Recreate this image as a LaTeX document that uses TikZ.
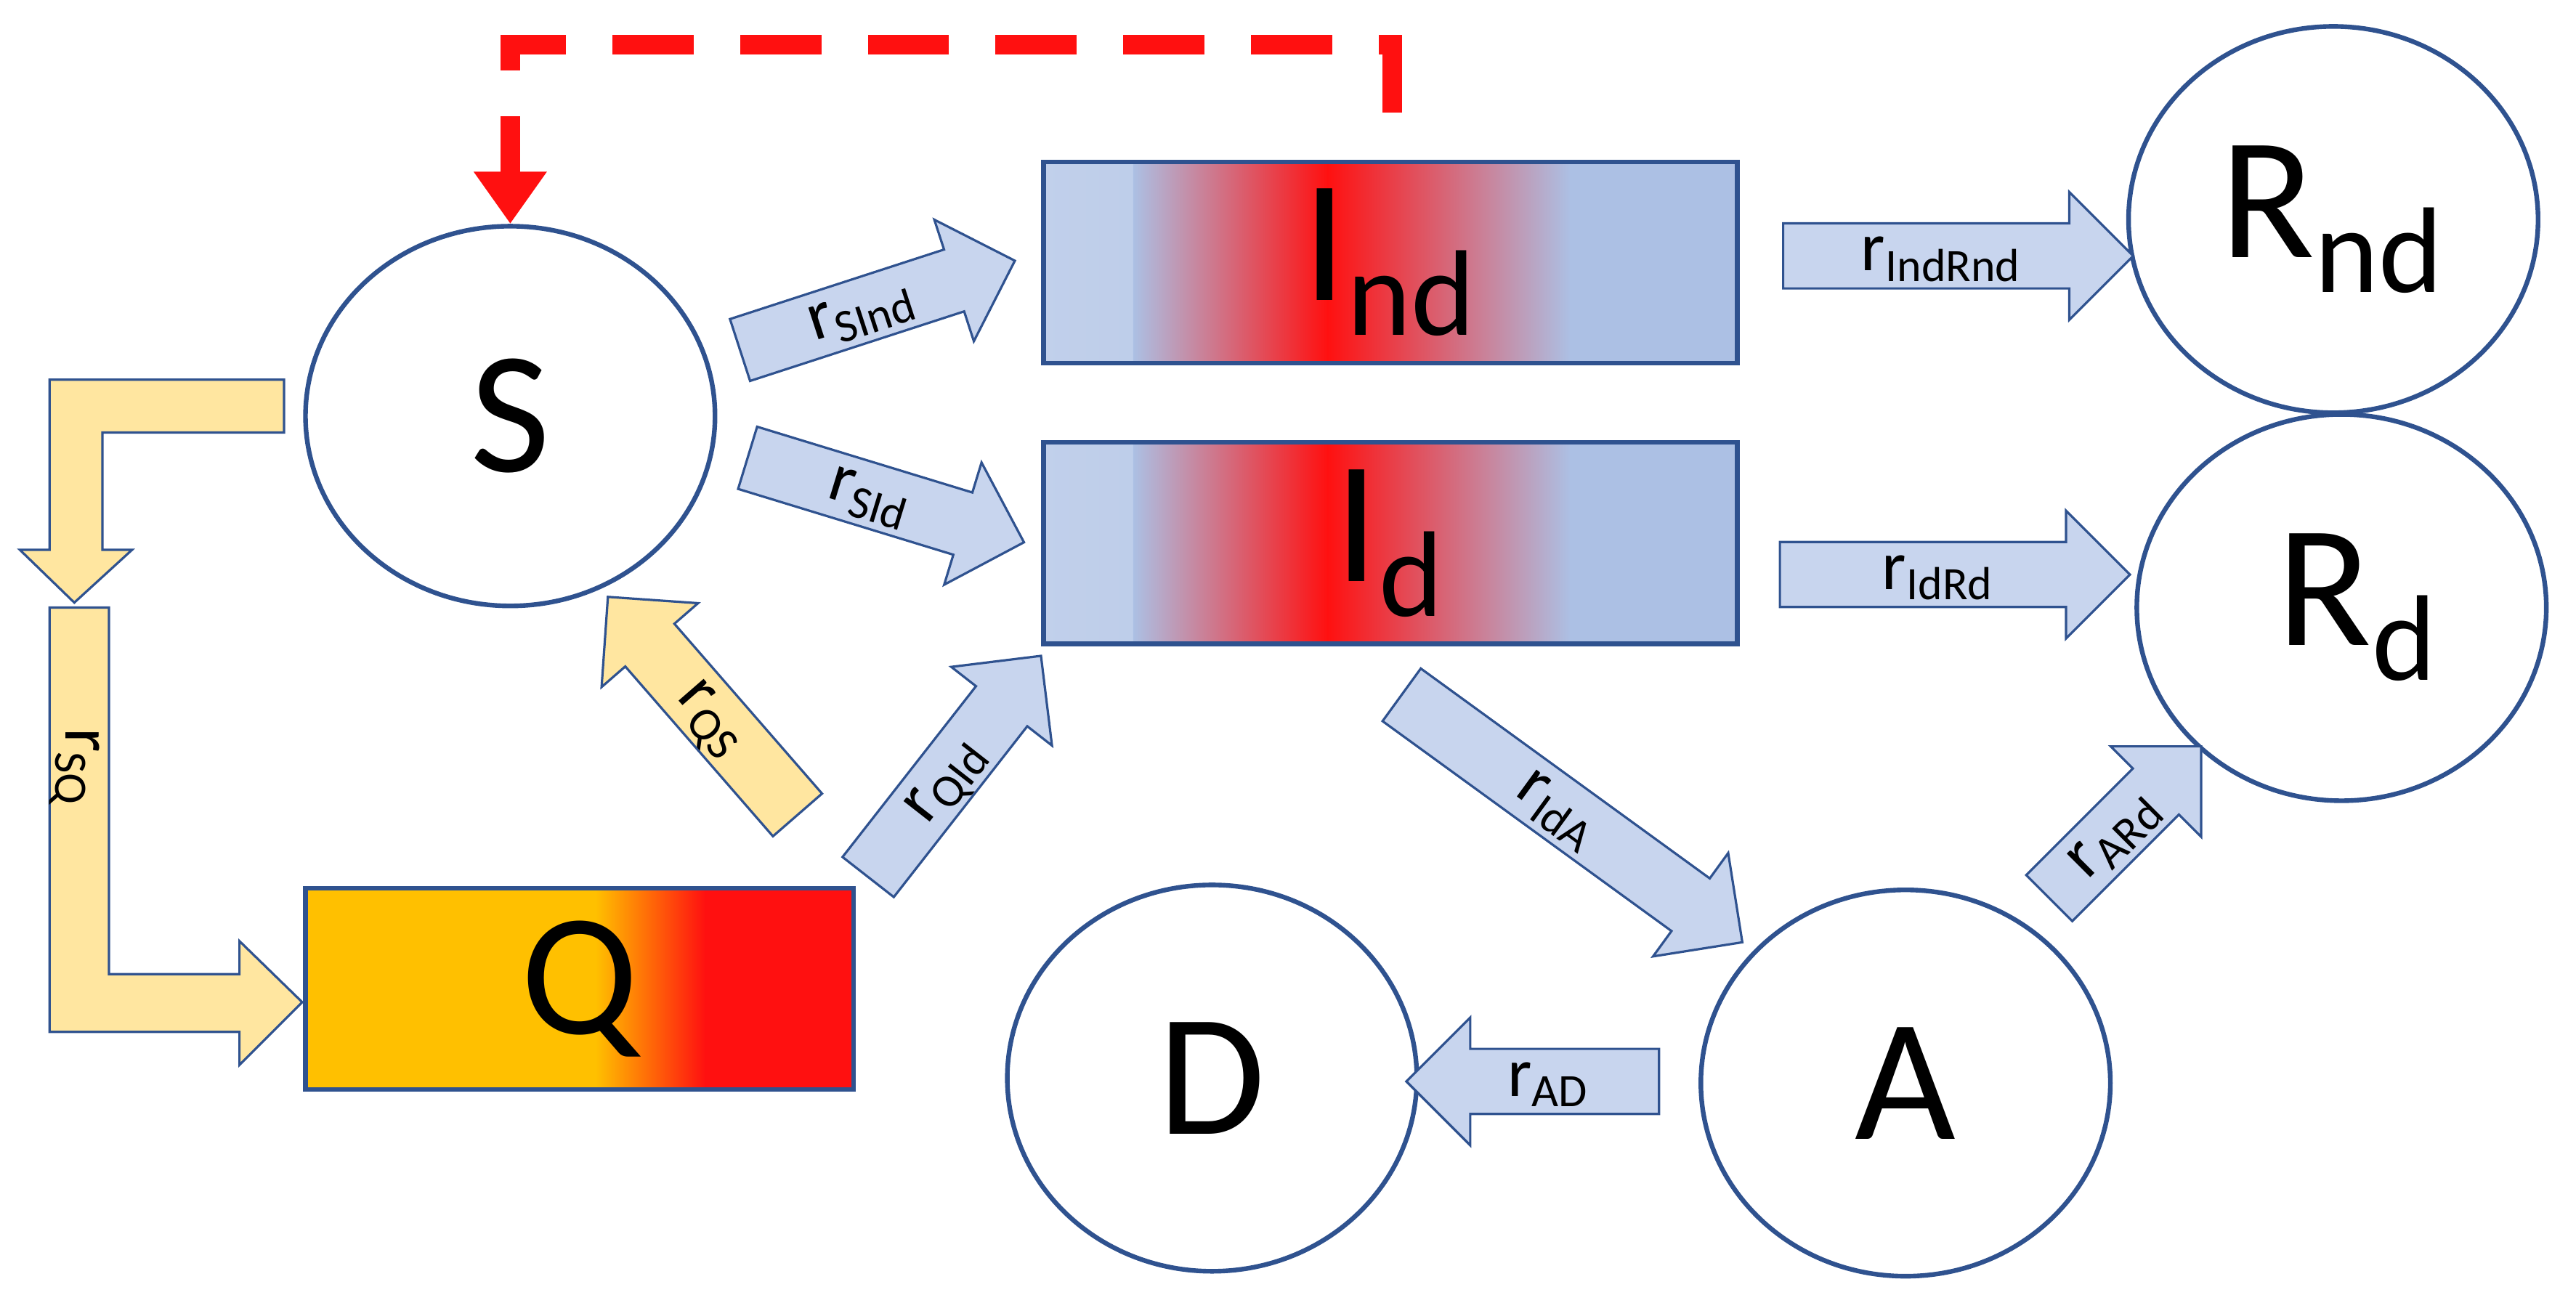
\documentclass[tikz,border=0pt]{standalone}
\usepackage{fontspec}
\setmainfont{Carlito}
\usetikzlibrary{shapes.geometric,shapes.arrows,arrows.meta,calc}

\definecolor{edgeblue}{RGB}{47,82,143}
\definecolor{flowblue}{RGB}{200,213,238}
\definecolor{flowyellow}{RGB}{255,230,160}
\definecolor{boxblue}{RGB}{172,192,228}
\definecolor{hotred}{RGB}{255,16,16}
\definecolor{qorange}{RGB}{255,192,0}

\newcommand{\band}[4]{% from fraction, to fraction, left colour, right colour
  \fill[left color=#3, right color=#4]
    ($(path picture bounding box.south west)!#1!(path picture bounding box.south east)$)
    rectangle
    ($(path picture bounding box.north west)!#2!(path picture bounding box.north east)$);}

\tikzset{
  comp/.style={draw=edgeblue, thick, ellipse, minimum width=2.48cm,
               minimum height=2.34cm, font=\fontsize{30}{32}\selectfont},
  box/.style={draw=edgeblue, thick, rectangle, minimum width=4.2cm,
              minimum height=1.22cm, font=\fontsize{30}{32}\selectfont},
  infected/.style={path picture={
      \band{0}{0.13}{boxblue!75!white}{boxblue}
      \band{0.129}{0.41}{boxblue}{hotred}
      \band{0.409}{0.76}{hotred}{boxblue}
      \band{0.759}{1}{boxblue}{boxblue}}},
  quarantine/.style={path picture={
      \band{0}{0.53}{qorange}{qorange}
      \band{0.529}{0.73}{qorange}{hotred}
      \band{0.729}{1}{hotred}{hotred}}},
  flow/.style={single arrow, draw=edgeblue, fill=flowblue, thin,
               text height=0.24cm, text depth=0.06cm, inner ysep=0.04cm,
               single arrow head extend=0.19cm, inner xsep=0pt,
               font=\fontsize{12}{14}\selectfont},
  backflow/.style={flow, fill=flowyellow},
  elbow/.style={draw=edgeblue, thin, fill=flowyellow},
  feedback/.style={draw=hotred, line width=3.4pt, dash pattern=on 14pt off 8pt,
                   -{Triangle[width=12pt,length=9pt]}}
}
\newcommand{\rate}[1]{r\textsubscript{#1}}

\begin{document}
\begin{tikzpicture}
  \useasboundingbox (0,0) rectangle (15.6,7.84);

  \node[comp, minimum height=2.3cm] (S)   at (3.09,5.32)  {S};
  \node[box, infected]              (Ind) at (8.42,6.25)  {I\textsubscript{nd}};
  \node[box, infected]              (Id)  at (8.42,4.55)  {I\textsubscript{d}};
  \node[comp]                       (Rnd) at (14.13,6.51) {R\textsubscript{nd}};
  \node[comp]                       (Rd)  at (14.18,4.16) {\hspace{0.2cm}R\textsubscript{d}};
  \node[box, quarantine, minimum width=3.32cm]
                                    (Q)   at (3.51,1.85)  {Q};
  \node[comp]                       (D)   at (7.34,1.31)  {D};
  \node[comp]                       (A)   at (11.54,1.28) {A};

  % transition arrows
  \node[flow, rotate=18,  minimum height=1.75cm] (fSInd)   at (5.22,5.96)  {\rate{SInd}};
  \node[flow, rotate=-17, minimum height=1.75cm] (fSId)    at (5.27,4.84)  {\rate{SId}};
  \node[flow, minimum height=2.12cm]             (fIndRnd) at (11.76,6.29) {\rate{IndRnd}};
  \node[flow, minimum height=2.12cm]             (fIdRd)   at (11.74,4.36) {\rate{IdRd}};
  \node[flow, rotate=-36, minimum height=2.55cm] (fIdA)    at (9.44,2.94)  {\rate{IdA}};
  \node[flow, rotate=45,  minimum height=1.3cm]  (fARd)    at (12.80,2.79) {\rate{ARd}};
  \node[flow, shape border rotate=180, minimum height=1.53cm]
                                                 (fAD)     at (9.38,1.29)  {\rate{AD}};
  \node[flow, rotate=52,  minimum height=1.7cm]  (fQId)    at (5.72,3.12)  {\rate{QId}};
  \node[backflow, rotate=-49, shape border rotate=180, minimum height=1.75cm]
                                                 (fQS)     at (4.32,3.49)  {\rate{QS}};

  % S to Q elbow
  \draw[elbow] (1.72,5.54) -- (1.72,5.22) -- (0.62,5.22) -- (0.62,4.51) -- (0.80,4.51)
               -- (0.45,4.19) -- (0.12,4.51) -- (0.30,4.51) -- (0.30,5.54) -- cycle;
  \draw[elbow] (0.30,4.16) -- (0.66,4.16) -- (0.66,1.94) -- (1.45,1.94) -- (1.45,2.14)
               -- (1.83,1.77) -- (1.45,1.39) -- (1.45,1.59) -- (0.30,1.59) -- cycle;
  \node[rotate=-90, font=\fontsize{12}{14}\selectfont] (lSQ) at (0.45,3.19) {\rate{SQ}};

  \coordinate (dstart) at (8.43,7.16);
  \draw[feedback] (dstart) -- ++(0,0.41) -| (S.north);
\end{tikzpicture}
\end{document}
